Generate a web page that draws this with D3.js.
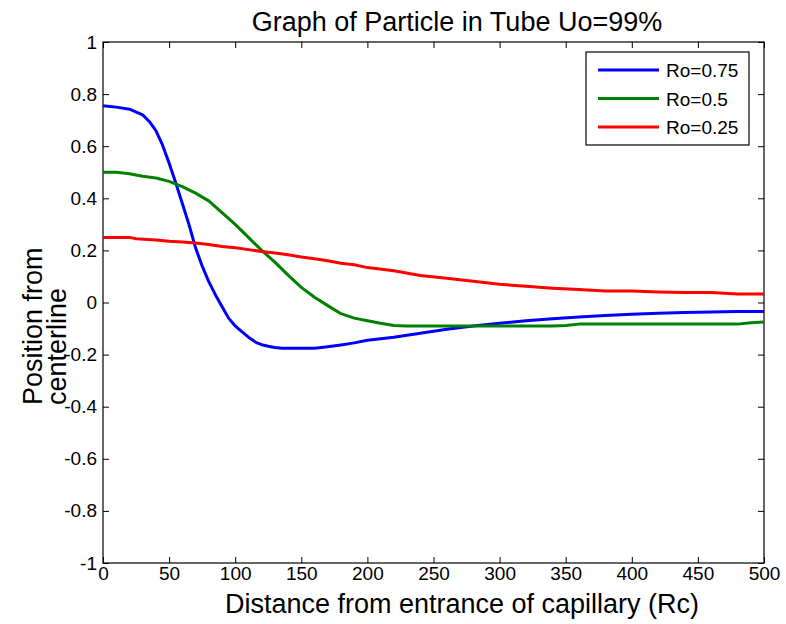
<!DOCTYPE html>
<html>
<head>
<meta charset="utf-8">
<script src="https://cdn.jsdelivr.net/npm/d3@7"></script>
<style>
  body { margin: 0; background: #fff; }
  text { font-family: "Liberation Sans", Arial, sans-serif; fill: #000; }
</style>
</head>
<body>
<svg id="chart" width="786" height="624"></svg>
<script>
// data
const xTicks = [0, 50, 100, 150, 200, 250, 300, 350, 400, 450, 500];
const yTicks = [-1, -0.8, -0.6, -0.4, -0.2, 0, 0.2, 0.4, 0.6, 0.8, 1];

const seriesNames = ["Ro=0.75", "Ro=0.5", "Ro=0.25"];
const seriesColors = ["#0000ff", "#008000", "#ff0000"];

const blueX = [0, 10, 20, 30, 35, 40, 45, 50, 55, 60, 65, 70, 75, 80, 85, 90, 95, 100, 105, 110, 116, 120, 125, 130, 135, 160, 170, 180, 190, 200, 220, 240, 260, 280, 300, 320, 340, 360, 380, 400, 420, 440, 460, 480, 500];
const blueY = [0.755, 0.75, 0.742, 0.72, 0.695, 0.66, 0.605, 0.535, 0.46, 0.38, 0.3, 0.21, 0.14, 0.08, 0.03, -0.015, -0.06, -0.09, -0.112, -0.133, -0.154, -0.162, -0.168, -0.173, -0.176, -0.176, -0.17, -0.163, -0.155, -0.145, -0.133, -0.118, -0.103, -0.09, -0.08, -0.07, -0.062, -0.056, -0.05, -0.045, -0.041, -0.038, -0.036, -0.035, -0.035];

const greenX = [0, 10, 20, 30, 40, 50, 60, 70, 80, 90, 100, 110, 120, 130, 140, 150, 160, 170, 180, 190, 200, 210, 220, 230, 250, 300, 340, 350, 360, 400, 450, 480, 490, 500];
const greenY = [0.5, 0.5, 0.494, 0.485, 0.478, 0.465, 0.445, 0.42, 0.39, 0.345, 0.3, 0.25, 0.2, 0.155, 0.105, 0.058, 0.02, -0.012, -0.043, -0.06, -0.07, -0.08, -0.088, -0.09, -0.09, -0.09, -0.09, -0.088, -0.083, -0.083, -0.083, -0.083, -0.078, -0.075];

const redX = [0, 20, 25, 40, 50, 60, 70, 80, 90, 100, 110, 120, 130, 140, 150, 160, 170, 180, 190, 200, 220, 240, 260, 280, 300, 320, 340, 360, 380, 400, 420, 440, 460, 480, 500];
const redY = [0.25, 0.25, 0.245, 0.24, 0.235, 0.232, 0.228, 0.223, 0.215, 0.21, 0.203, 0.196, 0.19, 0.183, 0.175, 0.168, 0.16, 0.151, 0.145, 0.134, 0.122, 0.104, 0.093, 0.082, 0.07, 0.062, 0.055, 0.05, 0.044, 0.044, 0.04, 0.038, 0.038, 0.033, 0.033];

const series = [
    { name: seriesNames[0], color: seriesColors[0], xs: blueX, ys: blueY },
    { name: seriesNames[1], color: seriesColors[1], xs: greenX, ys: greenY },
    { name: seriesNames[2], color: seriesColors[2], xs: redX, ys: redY },
];

const margin = { left: 103, top: 42, right: 764, bottom: 563 };
const svg = d3.select("#chart");

const x = d3.scaleLinear().domain([0, 500]).range([margin.left, margin.right]);
const y = d3.scaleLinear().domain([-1, 1]).range([margin.bottom, margin.top]);

// plain hyphen for negatives, like matlab
const fmt = d => String(+d.toFixed(1));

// axes, ticks pointing inward (matlab style)
svg.append("g")
    .attr("transform", `translate(0,${margin.bottom})`)
    .call(d3.axisBottom(x).tickValues(xTicks).tickSizeInner(-6).tickSizeOuter(0).tickPadding(3).tickFormat(fmt))
    .call(g => g.selectAll("text").style("font-size", "19px"));

svg.append("g")
    .attr("transform", `translate(0,${margin.top})`)
    .call(d3.axisTop(x).tickValues(xTicks).tickSizeInner(-6).tickSizeOuter(0).tickFormat(""));

svg.append("g")
    .attr("transform", `translate(${margin.left},0)`)
    .call(d3.axisLeft(y).tickValues(yTicks).tickSizeInner(-6).tickSizeOuter(0).tickPadding(6).tickFormat(fmt))
    .call(g => g.selectAll("text").style("font-size", "19px"));

svg.append("g")
    .attr("transform", `translate(${margin.right},0)`)
    .call(d3.axisRight(y).tickValues(yTicks).tickSizeInner(-6).tickSizeOuter(0).tickFormat(""));

svg.selectAll(".domain").remove();
svg.selectAll(".tick line").attr("stroke", "#000");

// box
svg.append("rect")
    .attr("x", margin.left)
    .attr("y", margin.top)
    .attr("width", margin.right - margin.left)
    .attr("height", margin.bottom - margin.top)
    .attr("fill", "none")
    .attr("stroke", "#000")
    .attr("stroke-width", 1.2);

// lines
const line = d3.line()
    .x(d => x(d[0]))
    .y(d => y(d[1]));

svg.selectAll(".series")
    .data(series)
    .enter()
    .append("path")
    .attr("class", "series")
    .attr("d", s => line(s.xs.map((v, i) => [v, s.ys[i]])))
    .attr("fill", "none")
    .attr("stroke", s => s.color)
    .attr("stroke-width", 3)
    .attr("stroke-linejoin", "round");

// legend
const legend = svg.append("g");
legend.append("rect")
    .attr("x", 586).attr("y", 52)
    .attr("width", 163).attr("height", 93)
    .attr("fill", "#fff")
    .attr("stroke", "#000")
    .attr("stroke-width", 1.2);

const item = legend.selectAll(".item")
    .data(series)
    .enter()
    .append("g")
    .attr("class", "item")
    .attr("transform", (d, i) => `translate(0,${70 + i * 28.5})`);

item.append("line")
    .attr("x1", 598).attr("x2", 659)
    .attr("y1", 0).attr("y2", 0)
    .attr("stroke", d => d.color)
    .attr("stroke-width", 3);

item.append("text")
    .attr("x", 666)
    .attr("y", 7)
    .style("font-size", "19px")
    .text(d => d.name);

// title + labels
svg.append("text")
    .attr("x", 457).attr("y", 31)
    .attr("text-anchor", "middle")
    .style("font-size", "27px")
    .text("Graph of Particle in Tube Uo=99%");

svg.append("text")
    .attr("x", 462).attr("y", 613)
    .attr("text-anchor", "middle")
    .style("font-size", "27px")
    .text("Distance from entrance of capillary (Rc)");

svg.append("text")
    .attr("transform", "translate(42,405) rotate(-90)")
    .style("font-size", "27px")
    .text("Position from");

svg.append("text")
    .attr("transform", "translate(66,405) rotate(-90)")
    .style("font-size", "27px")
    .text("centerline");
</script>
</body>
</html>
